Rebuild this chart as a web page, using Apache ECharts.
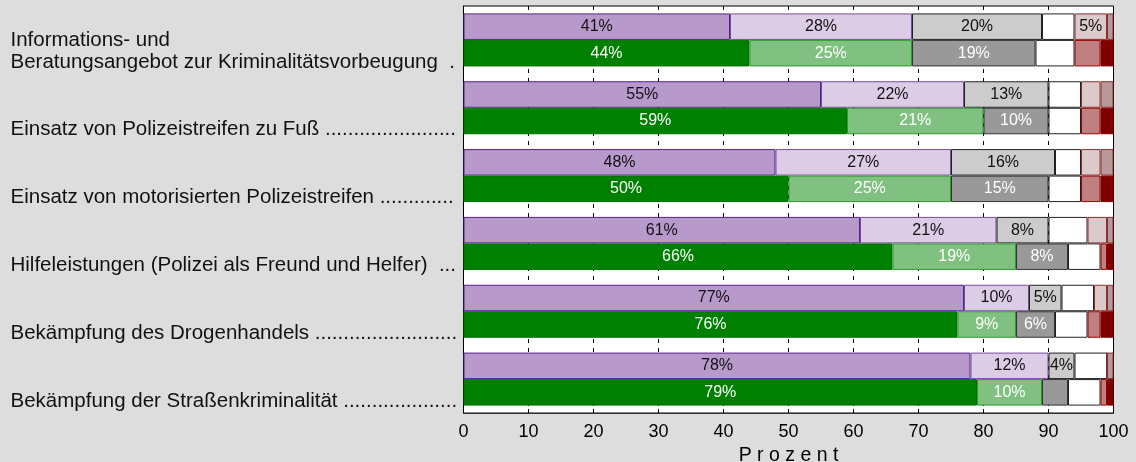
<!DOCTYPE html>
<html>
<head>
<meta charset="utf-8">
<script src="https://cdn.jsdelivr.net/npm/echarts@6/dist/echarts.min.js"></script>
<style>
    html, body { margin: 0; padding: 0; background: #dddddd; }
    #chart { width: 1136px; height: 462px; }
</style>
</head>
<body>
<div id="chart"></div>
<script>
// Kategorien (von oben nach unten)
const categories = [
    'Informations- und\nBeratungsangebot zur Kriminalitätsvorbeugung  .',
    'Einsatz von Polizeistreifen zu Fuß .......................',
    'Einsatz von motorisierten Polizeistreifen .............',
    'Hilfeleistungen (Polizei als Freund und Helfer)  ...',
    'Bekämpfung des Drogenhandels .........................',
    'Bekämpfung der Straßenkriminalität ....................'
]
const xTicks = [0, 10, 20, 30, 40, 50, 60, 70, 80, 90, 100]

// obere Balken (lila Gruppe)
const p1 = [41, 55, 48, 61, 77, 78]
const p2 = [28, 22, 27, 21, 10, 12]
const p3 = [20, 13, 16, 8, 5, 4]
const p4 = [5, 5, 4, 6, 5, 5]
const p5 = [5, 3, 3, 3, 2, 0]
const p6 = [1, 2, 2, 1, 1, 1]

// untere Balken (grüne Gruppe)
const g1 = [44, 59, 50, 66, 76, 79]
const g2 = [25, 21, 25, 19, 9, 10]
const g3 = [19, 10, 15, 8, 6, 4]
const g4 = [6, 5, 5, 5, 5, 5]
const g5 = [4, 3, 3, 1, 2, 1]
const g6 = [2, 2, 2, 1, 2, 1]

const chart = echarts.init(document.getElementById('chart'))

function seg(name, stack, data, color, border, labelColor, minLabel) {
    return {
        type: 'bar',
        name: name,
        stack: stack,
        data: data,
        barWidth: 26.5,
        barGap: '0%',
        itemStyle: { color: color, borderColor: border, borderWidth: 1 },
        label: {
            show: minLabel != null,
            position: 'inside',
            color: labelColor,
            fontSize: 16,
            fontFamily: 'Liberation Sans, Arial, sans-serif',
            formatter: (p) => (p.value >= minLabel ? p.value + '%' : '')
        },
        silent: true
    }
}

const series = [
    seg('p1', 'p', p1, '#b899cc', '#5a1f8c', '#111111', 4),
    seg('p2', 'p', p2, '#dccce6', '#7a4a9e', '#111111', 4),
    seg('p3', 'p', p3, '#cccccc', '#222222', '#111111', 4),
    seg('p4', 'p', p4, '#ffffff', '#222222', '#111111', null),
    seg('p5', 'p', p5, '#dccaca', '#8a3030', '#111111', 4),
    seg('p6', 'p', p6, '#b89999', '#8a3030', '#111111', null),
    seg('g1', 'g', g1, '#008000', '#007000', '#ffffff', 5),
    seg('g2', 'g', g2, '#80c080', '#2e9a2e', '#ffffff', 5),
    seg('g3', 'g', g3, '#999999', '#333333', '#ffffff', 5),
    seg('g4', 'g', g4, '#ffffff', '#222222', '#000', null),
    seg('g5', 'g', g5, '#c08080', '#990000', '#000', null),
    seg('g6', 'g', g6, '#800000', '#800000', '#000', null)
]

chart.setOption({
    backgroundColor: '#dddddd',
    animation: false,
    textStyle: { fontFamily: 'Liberation Sans, Arial, sans-serif' },
    grid: {
        left: 463.5,
        right: 22.5,
        top: 6,
        bottom: 49,
        outerBoundsMode: 'none',
        containLabel: false,
        show: true,
        backgroundColor: '#ffffff',
        borderColor: '#000000',
        borderWidth: 1
    },
    xAxis: {
        type: 'value',
        min: xTicks[0],
        max: xTicks[xTicks.length - 1],
        interval: 10,
        name: 'P r o z e n t',
        nameLocation: 'middle',
        nameGap: 28,
        nameTextStyle: { fontSize: 19.5, color: '#000' },
        axisLine: { show: true, lineStyle: { color: '#333', width: 1 } },
        axisTick: { show: true, inside: true, length: 4, lineStyle: { color: '#000' } },
        axisLabel: { fontSize: 18, color: '#000', margin: 10 },
        splitLine: { show: true, lineStyle: { color: '#000', type: [4, 5], width: 1 } }
    },
    yAxis: {
        type: 'category',
        inverse: true,
        data: categories,
        axisLine: { show: true, lineStyle: { color: '#000' } },
        axisTick: { show: false },
        axisLabel: {
            interval: 0,
            hideOverlap: false,
            align: 'left',
            margin: 453,
            fontSize: 20.5,
            color: '#111',
            lineHeight: 22,
            formatter: (v) => (v.indexOf('\n') >= 0 ? '\n' + v : '\n\n' + v)
        }
    },
    series: series
})
</script>
</body>
</html>
